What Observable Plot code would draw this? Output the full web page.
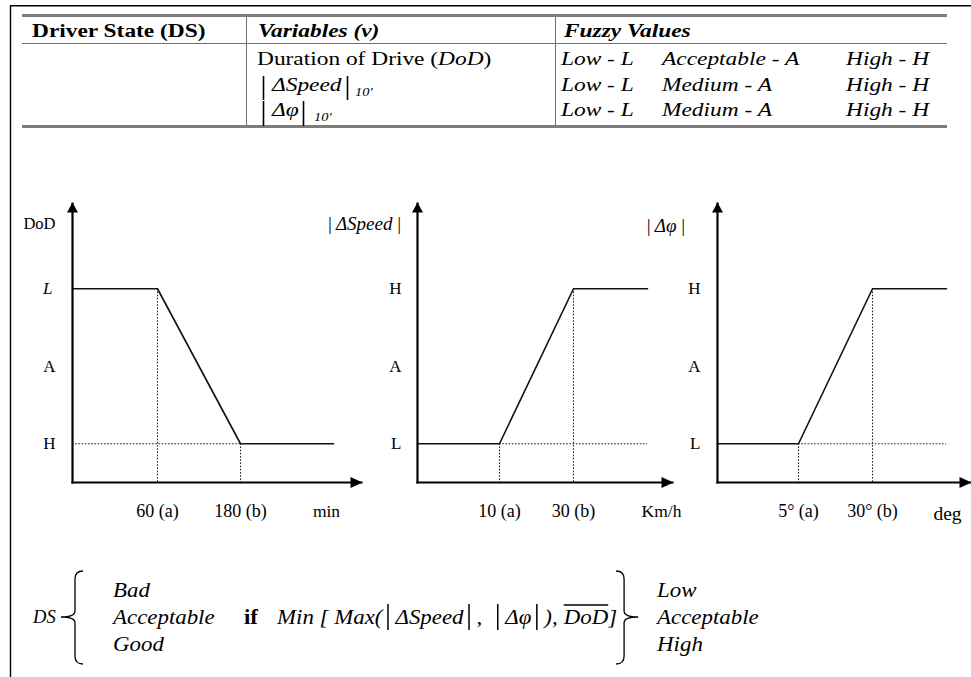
<!DOCTYPE html>
<html><head><meta charset="utf-8">
<script src="https://cdn.jsdelivr.net/npm/d3@7"></script>
<script src="https://cdn.jsdelivr.net/npm/@observablehq/plot@0.6"></script>
<style>
html,body{margin:0;padding:0;background:#fff;}
#page{position:relative;width:971px;height:677px;overflow:hidden;background:#fff;font-family:"Liberation Serif","Times New Roman",serif;}
</style></head><body><div id="page"></div>
<script>
// ---------------- DATA ----------------
const tableHeaders = ["Driver State (DS)", "Variables (v)", "Fuzzy Values"];
const variableNames = ["Duration of Drive (", "ΔSpeed", "Δφ"];
const variableAbbrev = ["DoD", "10'", "10'"];
const fuzzyValues = [
  ["Low - L", "Acceptable - A", "High - H"],
  ["Low - L", "Medium - A", "High - H"],
  ["Low - L", "Medium - A", "High - H"]
];

const membershipTicks = [0, 0.5, 1];
const dodLevelLabels = ["H", "A", "L"];
const speedLevelLabels = ["L", "A", "H"];
const phiLevelLabels = ["L", "A", "H"];

const dodX = [0, 60, 180, 240];
const dodMu = [1, 1, 0, 0];
const speedX = [0, 10, 30, 50];
const speedMu = [0, 0, 1, 1];
const phiX = [0, 5, 30, 55];
const phiMu = [0, 0, 1, 1];

const dodTicks = [60, 180], dodTickLabels = ["60 (a)", "180 (b)"];
const speedTicks = [10, 30], speedTickLabels = ["10 (a)", "30 (b)"];
const phiTicks = [5, 30], phiTickLabels = ["5° (a)", "30° (b)"];

const chartTitles = ["DoD", "|\u2009ΔSpeed\u2009|", "|\u2009Δφ\u2009|"];
const chartUnits = ["min", "Km/h", "deg"];

const dsStates = ["Bad", "Acceptable", "Good"];
const dsLevels = ["Low", "Acceptable", "High"];

// ---------------- PAGE ----------------
const W = 971, H = 677;
const FONT = "'Liberation Serif','Times New Roman',serif";
const page = d3.select("#page");
const ov = page.append("svg").attr("width", W).attr("height", H)
  .style("position", "absolute").style("left", "0px").style("top", "0px")
  .attr("font-family", FONT);

ov.append("path").attr("d", "M10.5,677V5.75H971").attr("fill", "none").attr("stroke", "#000").attr("stroke-width", 1.4);
function hline(x1, x2, y, w, c) { ov.append("line").attr("x1", x1).attr("x2", x2).attr("y1", y).attr("y2", y).attr("stroke", c).attr("stroke-width", w); }
function vline(x, y1, y2, w, c) { ov.append("line").attr("x1", x).attr("x2", x).attr("y1", y1).attr("y2", y2).attr("stroke", c).attr("stroke-width", w); }
hline(22, 947, 15.5, 3, "#7c7c7c");
hline(22, 947, 43.5, 1, "#707070");
hline(22, 947, 126.5, 3, "#7c7c7c");
vline(246.5, 17, 125, 1, "#707070");
vline(555.5, 17, 125, 1, "#707070");

function tx(x, y, parts, o = {}) {
  const {size = 19.5, sx = 1.2, weight = "normal", style = "normal"} = o;
  const t = ov.append("text").attr("transform", `translate(${x},${y}) scale(${sx},1)`)
    .attr("font-size", size).attr("font-weight", weight).attr("font-style", style).attr("fill", "#000");
  for (const p of [].concat(parts)) {
    if (typeof p === "string") t.append("tspan").text(p);
    else t.append("tspan").text(p.t).attr("font-style", p.style || null).attr("font-weight", p.weight || null);
  }
  return t;
}
// table header
tx(32, 37, tableHeaders[0], {weight: "bold"});
tx(258, 37, tableHeaders[1], {weight: "bold", style: "italic"});
tx(564, 37, tableHeaders[2], {weight: "bold", style: "italic"});
const rowBase = [65, 91, 116];
const fuzzyX = [561, 662, 846];
tx(257, rowBase[0], [variableNames[0], {t: variableAbbrev[0], style: "italic"}, ")"]);
// absolute-value bars (math delimiters)
vline(263.5, 76, 100, 1.6, "#000"); vline(347.5, 76, 100, 1.6, "#000");
tx(272, rowBase[1], variableNames[1], {style: "italic"});
tx(355, rowBase[1] + 5, variableAbbrev[1], {style: "italic", size: 12});
vline(263.5, 101, 126, 1.6, "#000"); vline(303.5, 101, 126, 1.6, "#000");
tx(272, rowBase[2], variableNames[2], {style: "italic"});
tx(314, rowBase[2] + 5, variableAbbrev[2], {style: "italic", size: 12});
fuzzyValues.forEach((row, r) => row.forEach((v, c) => tx(fuzzyX[c], rowBase[r], v, {style: "italic"})));

// ---------------- FORMULA ----------------
const F = 21, FSX = 1.09;
const fBase = [597, 624, 651];
tx(33, fBase[1] - 1, "DS", {style: "italic", size: 18, sx: 1.03});
dsStates.forEach((s, i) => tx(113, fBase[i], s, {style: "italic", size: F, sx: FSX}));
tx(244, fBase[1], "if", {weight: "bold", size: F, sx: FSX});
function brace(xArm, xTip, top, mid, bot, dir) {
  const d = `M${xArm + dir * 8},${top} Q${xArm},${top} ${xArm},${top + 8} L${xArm},${mid - 6} Q${xArm},${mid} ${xTip},${mid} Q${xArm},${mid} ${xArm},${mid + 6} L${xArm},${bot - 8} Q${xArm},${bot} ${xArm + dir * 8},${bot}`;
  ov.append("path").attr("d", d).attr("fill", "none").attr("stroke", "#000").attr("stroke-width", 1.3);
}
brace(75, 61, 571, 617, 664, 1);
let fx = 277;
function piece(str, o = {}) {
  const t = tx(fx, fBase[1], str, {style: "italic", size: F, sx: FSX, ...o});
  const w = t.node().getComputedTextLength() * FSX;
  const r = [fx, fx + w]; fx += w; return r;
}
function fbar() { fx += 5; vline(fx + 0.5, fBase[1] - 20, fBase[1] + 6, 1.5, "#000"); fx += 8; }
piece("Min [ Max(");
fbar(); piece("ΔSpeed"); fbar(); piece(",");
fx += 10; fbar(); piece("Δφ"); fbar(); piece("),");
fx += 6;
const dodSpan = piece("DoD");
ov.append("line").attr("x1", dodSpan[0]).attr("x2", dodSpan[1]).attr("y1", fBase[1] - 19).attr("y2", fBase[1] - 19).attr("stroke", "#000").attr("stroke-width", 1.6);
piece("]");
const rb = fx + 7;
brace(rb, rb + 14, 571, 617, 664, -1);
dsLevels.forEach((s, i) => tx(rb + 33, fBase[i], s, {style: "italic", size: F, sx: FSX}));

// ---------------- CHARTS ----------------
const arrowUp = {draw(ctx) { ctx.moveTo(0, -1); ctx.lineTo(5.5, 9); ctx.lineTo(-5.5, 9); ctx.closePath(); }};
const arrowRight = {draw(ctx) { ctx.moveTo(1, 0); ctx.lineTo(-11, -5.5); ctx.lineTo(-11, 5.5); ctx.closePath(); }};
// schematic y extent: axis origin sits a quarter level below the lowest level, arrow tip above the top level
const yExtent = [-0.25, 1.55];

function chart(c) {
  const height = 340, mt = 13, mb = 48;
  const lvlMap = new Map(membershipTicks.map((t, i) => [t, c.levels[i]]));
  const bmu = c.ticks.map(t => c.mu[c.xs.indexOf(t)]);
  // schematic (not-to-scale) x axis: breakpoints are spaced as drawn in the figure
  const x0 = c.xRange[0], x3 = c.xRange[c.xRange.length - 1];
  const schematic = d3.scaleLinear().domain(c.xs).range(c.xRange.map(p => (p - x0) / (x3 - x0)));
  const p = Plot.plot({
    width: c.width, height,
    marginLeft: c.ml, marginRight: c.mr, marginTop: mt, marginBottom: mb,
    x: {transform: schematic, range: [x0, x3], axis: null},
    y: {domain: yExtent},
    style: {fontFamily: FONT, fontSize: "17px", background: "transparent", overflow: "visible", color: "#000"},
    marks: [
      Plot.ruleY([0], {x1: [c.hDot[0]], x2: [c.hDot[1]], stroke: "#222", strokeWidth: 1, strokeDasharray: "1.6,1.6"}),
      Plot.ruleX(c.ticks, {x: c.ticks, y1: bmu, y2: c.ticks.map(() => yExtent[0]), stroke: "#222", strokeWidth: 1, strokeDasharray: "1.6,1.6"}),
      Plot.line(c.xs, {x: c.xs, y: c.mu, stroke: "#111", strokeWidth: 1.6}),
      Plot.frame({anchor: "left", stroke: "#000", strokeWidth: 2.2}),
      Plot.frame({anchor: "bottom", stroke: "#000", strokeWidth: 2.2}),
      Plot.dot([0], {frameAnchor: "top-left", symbol: arrowUp, fill: "#000", stroke: "none"}),
      Plot.dot([0], {frameAnchor: "bottom-right", symbol: arrowRight, fill: "#000", stroke: "none"}),
      Plot.text(c.ticks, {x: c.ticks, text: c.tickLabels, frameAnchor: "bottom", dy: 22, lineAnchor: "top", fontSize: 18}),
      Plot.axisY({ticks: c.italicTop ? [0, 0.5] : membershipTicks, tickFormat: d => lvlMap.get(d), tickSize: 0, tickPadding: c.yPad, fontSize: 17, label: null}),
      ...(c.italicTop ? [Plot.axisY({ticks: [1], tickFormat: d => lvlMap.get(d), tickSize: 0, tickPadding: c.yPad + 3, fontSize: 17, fontStyle: "italic", label: null})] : []),
      Plot.text([c.title], {frameAnchor: "top-left", dx: c.titleDx, dy: c.titleDy, textAnchor: "end", lineAnchor: "middle", fontSize: c.titleSize, fontStyle: c.titleItalic ? "italic" : "normal"}),
      Plot.text([c.unit], {frameAnchor: "bottom-right", dx: c.unitDx, dy: c.unitDy, textAnchor: "middle", lineAnchor: "middle", fontSize: c.unitSize})
    ]
  });
  p.style.position = "absolute"; p.style.left = c.left + "px"; p.style.top = "190px";
  page.node().appendChild(p);
}

chart({left: 0, width: 370, ml: 72, mr: 9, xRange: [72, 157, 240, 333], xs: dodX, mu: dodMu,
  ticks: dodTicks, tickLabels: dodTickLabels, levels: dodLevelLabels, italicTop: true, yPad: 17,
  hDot: [dodX[0], dodX[2]], title: chartTitles[0], titleDx: -17, titleDy: 20, titleItalic: false, titleSize: 16.5,
  unit: chartUnits[0], unitDx: -35, unitDy: 29, unitSize: 17.5});
chart({left: 320, width: 360, ml: 97, mr: 8, xRange: [97, 179, 253, 327], xs: speedX, mu: speedMu,
  ticks: speedTicks, tickLabels: speedTickLabels, levels: speedLevelLabels, italicTop: false, yPad: 16,
  hDot: [speedX[1], speedX[3]], title: chartTitles[1], titleDx: -16, titleDy: 20, titleItalic: true, titleSize: 19,
  unit: chartUnits[1], unitDx: -11, unitDy: 29, unitSize: 17.5});
chart({left: 630, width: 341, ml: 87, mr: 1, xRange: [87, 168, 242, 316], xs: phiX, mu: phiMu,
  ticks: phiTicks, tickLabels: phiTickLabels, levels: phiLevelLabels, italicTop: false, yPad: 17,
  hDot: [phiX[1], phiX[3]], title: chartTitles[2], titleDx: -32, titleDy: 22, titleItalic: true, titleSize: 19,
  unit: chartUnits[2], unitDx: -23, unitDy: 31, unitSize: 19.5});
</script></body></html>
